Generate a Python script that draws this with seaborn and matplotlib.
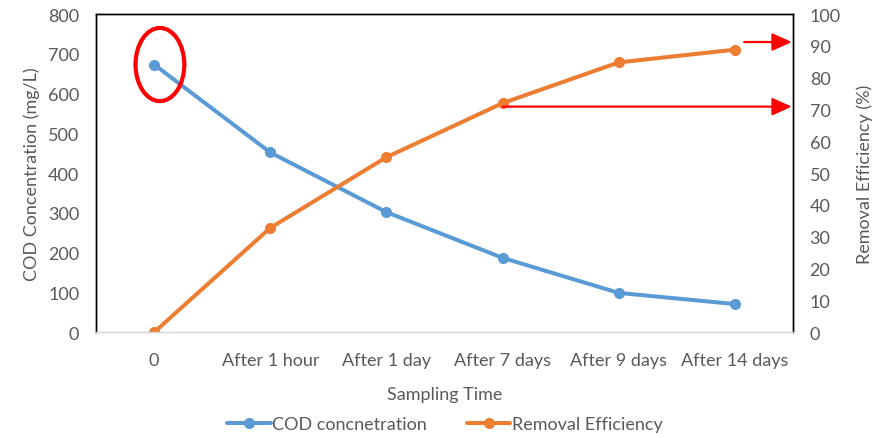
import matplotlib
matplotlib.use("Agg")
import matplotlib.pyplot as plt
from matplotlib.patches import Ellipse
from matplotlib.lines import Line2D
import seaborn as sns
import pandas as pd

# Sampling schedule and measured values
times = ["0", "After 1 hour", "After 1 day", "After 7 days", "After 9 days", "After 14 days"]
cod = [673, 452, 302, 187, 99, 71]               # mg/L
removal = [0, 32.8, 55.0, 72.0, 84.8, 88.8]      # %

df = pd.DataFrame({"time": times, "cod": cod, "removal": removal})

sns.set_theme(style="white")
plt.rcParams["font.family"] = ["Lato", "DejaVu Sans"]
TXT = "#595959"
BLUE = "#5B9BD5"
ORANGE = "#ED7D31"
FS = 13

fig = plt.figure(figsize=(8.9, 4.39), dpi=100)
ax = fig.add_axes([0.1079, 0.2408, 0.7831, 0.7250])
ax2 = ax.twinx()

sns.lineplot(data=df, x="time", y="cod", ax=ax, color=BLUE, marker="o",
             markersize=8, markeredgewidth=0, linewidth=2.9, sort=False)
sns.lineplot(data=df, x="time", y="removal", ax=ax2, color=ORANGE, marker="o",
             markersize=8, markeredgewidth=0, linewidth=2.9, sort=False)

ax.set_xlim(-0.5, len(times) - 0.5)
ax.set_ylim(0, 800)
ax2.set_ylim(0, 100)
ax.set_yticks(range(0, 801, 100))
ax2.set_yticks(range(0, 101, 10))

ax.set_xticks(range(len(times)))
ax.set_xticklabels(times)
ax.set_xticks([i - 0.5 for i in range(len(times) + 1)], minor=True)
ax.tick_params(axis="x", which="major", length=0, pad=14, labelsize=FS, labelcolor=TXT)
ax.tick_params(axis="x", which="minor", length=5, width=1, color="#D9D9D9", direction="out")
ax.tick_params(axis="y", length=0, pad=12, labelsize=FS, labelcolor=TXT)
ax2.tick_params(axis="y", length=0, pad=12, labelsize=FS, labelcolor=TXT)

for a in (ax, ax2):
    for side in ("left", "right", "top"):
        a.spines[side].set_color("black")
        a.spines[side].set_linewidth(1.0)
    a.spines["bottom"].set_color("#D9D9D9")
    a.spines["bottom"].set_linewidth(1.0)

ax.set_xlabel("Sampling Time", color=TXT, fontsize=FS, labelpad=13)
ax.set_ylabel("COD Concentration (mg/L)", color=TXT, fontsize=FS, labelpad=6)
ax2.set_ylabel("Removal Efficiency (%)", color=TXT, fontsize=FS, labelpad=11)

# Highlight the initial concentration
ax.add_patch(Ellipse((0.05, 673), 0.42, 184, fill=False, edgecolor="red",
                     linewidth=3, clip_on=False, zorder=5))

# Arrows pointing to the efficiency levels on the secondary axis
arrow_kw = dict(arrowstyle="-|>,head_length=1.0,head_width=0.45", color="red", lw=1.6,
                shrinkA=0, shrinkB=0)
ax2.annotate("", xy=(5.49, 70.9), xytext=(3.0, 70.9), arrowprops=arrow_kw, annotation_clip=False)
ax2.annotate("", xy=(5.49, 91.2), xytext=(5.08, 91.2), arrowprops=arrow_kw, annotation_clip=False)

handles = [
    Line2D([], [], color=BLUE, marker="o", markersize=8, markeredgewidth=0, linewidth=2.9),
    Line2D([], [], color=ORANGE, marker="o", markersize=8, markeredgewidth=0, linewidth=2.9),
]
fig.legend(handles, ["COD concnetration", "Removal Efficiency"], loc="center",
           bbox_to_anchor=(0.5, 0.031), ncol=2, frameon=False, fontsize=FS,
           labelcolor=TXT, handlelength=2.4, handletextpad=0.1, columnspacing=2.2)

fig.savefig("out.png", dpi=100)
